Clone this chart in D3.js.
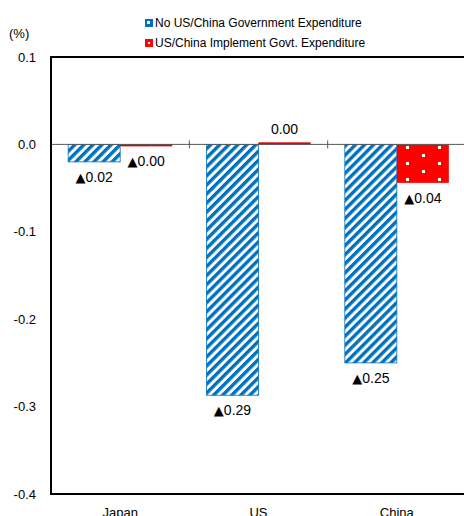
<!DOCTYPE html>
<html lang="en">
<head>
<meta charset="utf-8">
<style>
  body { margin: 0; background: #fff; }
  text { font-family: "Liberation Sans", Arial, sans-serif; fill: #000; }
</style>
</head>
<body>
<div id="viz"></div>
<script src="https://d3js.org/d3.v7.min.js"></script>
<script>

var w = 464, h = 516;

var categories = ["Japan", "US", "China"];
var seriesNames = ["No US/China Government Expenditure", "US/China Implement Govt. Expenditure"];
var noSpend = [-0.02, -0.287, -0.25];
var withSpend = [-0.002, 0.002, -0.044];
var yTicks = [0.1, 0.0, -0.1, -0.2, -0.3, -0.4];

var margin = {left: 51, top: 57, right: -2, bottom: 22};

var svg = d3.select("#viz").append("svg")
  .attr("width", w).attr("height", h);

var defs = svg.append("defs");

// blue diagonal stripes
var stripe = defs.append("pattern")
  .attr("id", "stripe")
  .attr("patternUnits", "userSpaceOnUse")
  .attr("width", 6.4).attr("height", 6.4)
  .attr("patternTransform", "rotate(45)");
stripe.append("rect").attr("width", 6.4).attr("height", 6.4).attr("fill", "#fff");
stripe.append("rect").attr("width", 3.4).attr("height", 6.4).attr("fill", "#0070c0");

// red with white dots
var dots = defs.append("pattern")
  .attr("id", "dots")
  .attr("patternUnits", "userSpaceOnUse")
  .attr("x", 406).attr("y", 146)
  .attr("width", 32).attr("height", 16);
dots.append("rect").attr("width", 32).attr("height", 16).attr("fill", "#ff0000");
dots.append("rect").attr("x", 0).attr("y", 0).attr("width", 3).attr("height", 3).attr("fill", "#fff");
dots.append("rect").attr("x", 16).attr("y", 8).attr("width", 3).attr("height", 3).attr("fill", "#fff");

var x = d3.scaleBand()
  .domain(categories)
  .range([margin.left, w - margin.right])
  .paddingInner(0).paddingOuter(0);

var y = d3.scaleLinear()
  .domain([-0.4, 0.1])
  .range([h - margin.bottom, margin.top]);

var inner = d3.scaleBand()
  .domain([0, 1])
  .range([0, x.bandwidth()])
  .paddingInner(0).paddingOuter(0.33);

var fills = ["url(#stripe)", "url(#dots)"];

function num(v) {
  return Math.abs(v).toFixed(2);
}

var data = [];
categories.forEach(function(c, i) {
  data.push({cat: c, s: 0, v: noSpend[i]});
  data.push({cat: c, s: 1, v: withSpend[i]});
});

// bars
svg.selectAll("rect.bar")
  .data(data)
  .enter().append("rect")
  .attr("class", "bar")
  .attr("x", d => x(d.cat) + inner(d.s))
  .attr("width", inner.bandwidth())
  .attr("y", d => y(Math.max(0, d.v)))
  .attr("height", d => Math.abs(y(d.v) - y(0)))
  .attr("fill", d => fills[d.s])
  .attr("stroke", d => d.s == 0 ? "#0070c0" : "none")
  .attr("stroke-width", 0.8);

// thin red bars drawn as lines too, so they show
svg.selectAll("line.thin")
  .data(data.filter(d => d.s == 1 && Math.abs(d.v) < 0.01))
  .enter().append("line")
  .attr("x1", d => x(d.cat) + inner(d.s))
  .attr("x2", d => x(d.cat) + inner(d.s) + inner.bandwidth())
  .attr("y1", d => (y(d.v) + y(0)) / 2)
  .attr("y2", d => (y(d.v) + y(0)) / 2)
  .attr("stroke", "#e00000")
  .attr("stroke-width", 2);

// zero line
svg.append("line")
  .attr("x1", margin.left).attr("x2", w)
  .attr("y1", y(0)).attr("y2", y(0))
  .attr("stroke", "#595959").attr("stroke-width", 1);

// category tick marks on zero line
svg.selectAll("line.ctick")
  .data(categories.slice(1))
  .enter().append("line")
  .attr("x1", d => x(d)).attr("x2", d => x(d))
  .attr("y1", y(0) - 4).attr("y2", y(0) + 4)
  .attr("stroke", "#595959").attr("stroke-width", 1);

// frame
svg.append("path")
  .attr("d", "M" + w + "," + y(0.1) + "H" + margin.left + "V" + y(-0.4) + "H" + w)
  .attr("fill", "none")
  .attr("stroke", "#000")
  .attr("stroke-width", 2);

// y tick labels
svg.selectAll("text.ytick")
  .data(yTicks)
  .enter().append("text")
  .attr("class", "ytick")
  .attr("x", 36)
  .attr("y", d => y(d))
  .attr("dy", "0.35em")
  .attr("text-anchor", "end")
  .style("font-size", "13px")
  .text(d => d3.format(".1f")(d).replace("\u2212", "-"));

svg.append("text")
  .attr("x", 9).attr("y", 33).attr("dy", "0.35em")
  .style("font-size", "13px")
  .text("(%)");

// category labels (cut by the bottom edge, as in the original)
svg.selectAll("text.cat")
  .data(categories)
  .enter().append("text")
  .attr("class", "cat")
  .attr("x", d => x(d) + x.bandwidth() / 2)
  .attr("y", 517)
  .attr("text-anchor", "middle")
  .style("font-size", "13px")
  .text(d => d);

// value labels
var vl = svg.selectAll("text.val")
  .data(data)
  .enter().append("text")
  .attr("class", "val")
  .attr("x", d => x(d.cat) + inner(d.s) + inner.bandwidth() / 2)
  .attr("y", d => d.v >= 0 ? y(d.v) - 14 : y(d.v) + 15)
  .attr("dy", "0.35em")
  .attr("text-anchor", "middle")
  .style("font-size", "14px");
vl.filter(d => d.v < 0).append("tspan")
  .style("font-family", "'DejaVu Sans'")
  .style("font-size", "13px")
  .text("\u25B2");
vl.append("tspan").text(d => num(d.v));

// legend
var leg = svg.selectAll("g.leg")
  .data(seriesNames)
  .enter().append("g")
  .attr("class", "leg")
  .attr("transform", (d, i) => "translate(145," + (23 + i * 20) + ")");

leg.append("rect")
  .attr("x", 0).attr("y", -4)
  .attr("width", 8).attr("height", 8)
  .attr("fill", (d, i) => i == 0 ? "#0070c0" : "#ff0000");
leg.append("rect")
  .attr("x", (d, i) => i == 0 ? 2 : 3)
  .attr("y", (d, i) => i == 0 ? -2 : -1)
  .attr("width", (d, i) => i == 0 ? 3 : 2)
  .attr("height", (d, i) => i == 0 ? 3 : 2)
  .attr("fill", "#fff");
leg.append("text")
  .attr("x", 10)
  .attr("dy", "0.35em")
  .style("font-size", "12px")
  .text(d => d);

</script>
</body>
</html>
